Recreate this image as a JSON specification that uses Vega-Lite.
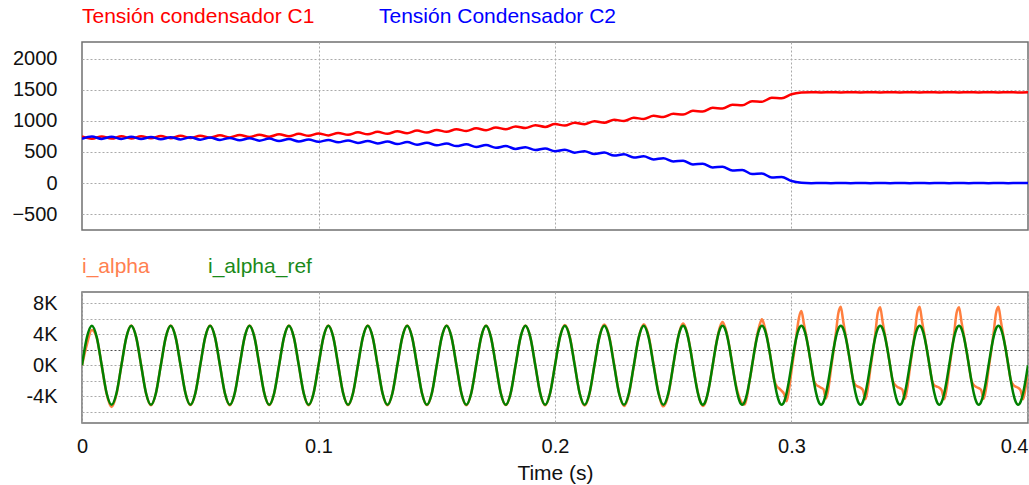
{
  "$schema": "https://vega.github.io/schema/vega-lite/v6.json",
  "background": "white",
  "padding": {"left": 11, "top": 5, "right": 0, "bottom": 0},
  "config": {
    "font": "Liberation Sans",
    "view": {"stroke": "#707070", "strokeWidth": 1.5},
    "axis": {
      "grid": true, "gridColor": "#aaaaaa", "gridDash": [2, 2], "gridWidth": 1,
      "domain": false, "ticks": false, "tickSize": 0,
      "labelFont": "Liberation Sans", "labelFontSize": 20, "labelColor": "#111111",
      "titleFont": "Liberation Sans", "titleFontSize": 21, "titleFontWeight": "normal", "titleColor": "#111111"
    }
  },
  "datasets": {
    "top": [
      {"t":0,"C1":748,"C2":712},{"t":0.00417,"C1":713,"C2":747},{"t":0.00833,"C1":750,"C2":710},{"t":0.0125,"C1":715,"C2":745},
      {"t":0.01667,"C1":751,"C2":709},{"t":0.02083,"C1":716,"C2":744},{"t":0.025,"C1":753,"C2":707},{"t":0.02917,"C1":719,"C2":741},
      {"t":0.03333,"C1":756,"C2":704},{"t":0.0375,"C1":722,"C2":738},{"t":0.04167,"C1":759,"C2":701},{"t":0.04583,"C1":725,"C2":735},
      {"t":0.05,"C1":762,"C2":698},{"t":0.05417,"C1":729,"C2":731},{"t":0.05833,"C1":767,"C2":693},{"t":0.0625,"C1":734,"C2":726},
      {"t":0.06667,"C1":773,"C2":687},{"t":0.07083,"C1":739,"C2":721},{"t":0.075,"C1":778,"C2":682},{"t":0.07917,"C1":745,"C2":715},
      {"t":0.08333,"C1":785,"C2":675},{"t":0.0875,"C1":752,"C2":708},{"t":0.09167,"C1":791,"C2":669},{"t":0.09583,"C1":759,"C2":701},
      {"t":0.1,"C1":798,"C2":662},{"t":0.10417,"C1":766,"C2":694},{"t":0.10833,"C1":806,"C2":654},{"t":0.1125,"C1":775,"C2":685},
      {"t":0.11667,"C1":815,"C2":645},{"t":0.12083,"C1":783,"C2":677},{"t":0.125,"C1":823,"C2":637},{"t":0.12917,"C1":792,"C2":668},
      {"t":0.13333,"C1":833,"C2":627},{"t":0.1375,"C1":802,"C2":658},{"t":0.14167,"C1":843,"C2":617},{"t":0.14583,"C1":812,"C2":648},
      {"t":0.15,"C1":853,"C2":607},{"t":0.15417,"C1":824,"C2":636},{"t":0.15833,"C1":866,"C2":594},{"t":0.1625,"C1":837,"C2":623},
      {"t":0.16667,"C1":880,"C2":580},{"t":0.17083,"C1":850,"C2":610},{"t":0.175,"C1":893,"C2":567},{"t":0.17917,"C1":866,"C2":594},
      {"t":0.18333,"C1":911,"C2":549},{"t":0.1875,"C1":885,"C2":575},{"t":0.19167,"C1":930,"C2":530},{"t":0.19583,"C1":903,"C2":557},
      {"t":0.2,"C1":948,"C2":512},{"t":0.20417,"C1":924,"C2":536},{"t":0.20833,"C1":971,"C2":489},{"t":0.2125,"C1":947,"C2":513},
      {"t":0.21667,"C1":995,"C2":465},{"t":0.22083,"C1":970,"C2":490},{"t":0.225,"C1":1018,"C2":442},{"t":0.22917,"C1":998,"C2":462},
      {"t":0.23333,"C1":1050,"C2":410},{"t":0.2375,"C1":1030,"C2":430},{"t":0.24167,"C1":1081,"C2":379},{"t":0.24583,"C1":1061,"C2":399},
      {"t":0.25,"C1":1113,"C2":347},{"t":0.25417,"C1":1101,"C2":359},{"t":0.25833,"C1":1161,"C2":299},{"t":0.2625,"C1":1150,"C2":310},
      {"t":0.26667,"C1":1210,"C2":250},{"t":0.27083,"C1":1198,"C2":262},{"t":0.275,"C1":1258,"C2":202},{"t":0.27917,"C1":1250,"C2":210},
      {"t":0.28333,"C1":1315,"C2":145},{"t":0.2875,"C1":1307,"C2":153},{"t":0.29167,"C1":1371,"C2":89},{"t":0.29583,"C1":1364,"C2":96},
      {"t":0.3,"C1":1428,"C2":32},{"t":0.30417,"C1":1455,"C2":5},{"t":0.30833,"C1":1462,"C2":-2},{"t":0.3125,"C1":1457,"C2":2},
      {"t":0.31667,"C1":1462,"C2":-2},{"t":0.32083,"C1":1457,"C2":2},{"t":0.325,"C1":1462,"C2":-2},{"t":0.32917,"C1":1457,"C2":2},
      {"t":0.33333,"C1":1462,"C2":-2},{"t":0.3375,"C1":1457,"C2":2},{"t":0.34167,"C1":1462,"C2":-2},{"t":0.34583,"C1":1457,"C2":2},
      {"t":0.35,"C1":1462,"C2":-2},{"t":0.35417,"C1":1457,"C2":2},{"t":0.35833,"C1":1462,"C2":-2},{"t":0.3625,"C1":1457,"C2":2},
      {"t":0.36667,"C1":1462,"C2":-2},{"t":0.37083,"C1":1457,"C2":2},{"t":0.375,"C1":1462,"C2":-2},{"t":0.37917,"C1":1457,"C2":2},
      {"t":0.38333,"C1":1462,"C2":-2},{"t":0.3875,"C1":1457,"C2":2},{"t":0.39167,"C1":1462,"C2":-2},{"t":0.39583,"C1":1457,"C2":2},
      {"t":0.4,"C1":1460,"C2":0}
    ],
    "bot": [
      {"t":0,"a":0,"r":0},{"t":0.00208,"a":2700,"r":3606},{"t":0.00417,"a":4550,"r":5100},{"t":0.00625,"a":3550,"r":3606},
      {"t":0.00833,"a":-50,"r":0},{"t":0.01042,"a":-3700,"r":-3606},{"t":0.0125,"a":-5400,"r":-5100},{"t":0.01458,"a":-3750,"r":-3606},
      {"t":0.01667,"a":0,"r":0},{"t":0.01875,"a":3620,"r":3606},{"t":0.02083,"a":5150,"r":5100},{"t":0.02292,"a":3600,"r":3606},
      {"t":0.025,"a":0,"r":0},{"t":0.02708,"a":-3620,"r":-3606},{"t":0.02917,"a":-5160,"r":-5100},{"t":0.03125,"a":-3600,"r":-3606},
      {"t":0.03333,"a":20,"r":0},{"t":0.03542,"a":3600,"r":3606},{"t":0.0375,"a":5120,"r":5100},{"t":0.03958,"a":3630,"r":3606},
      {"t":0.04167,"a":10,"r":0},{"t":0.04375,"a":-3600,"r":-3606},{"t":0.04583,"a":-5140,"r":-5100},{"t":0.04792,"a":-3630,"r":-3606},
      {"t":0.05,"a":0,"r":0},{"t":0.05208,"a":3620,"r":3606},{"t":0.05417,"a":5150,"r":5100},{"t":0.05625,"a":3600,"r":3606},
      {"t":0.05833,"a":0,"r":0},{"t":0.06042,"a":-3620,"r":-3606},{"t":0.0625,"a":-5160,"r":-5100},{"t":0.06458,"a":-3600,"r":-3606},
      {"t":0.06667,"a":20,"r":0},{"t":0.06875,"a":3600,"r":3606},{"t":0.07083,"a":5120,"r":5100},{"t":0.07292,"a":3630,"r":3606},
      {"t":0.075,"a":10,"r":0},{"t":0.07708,"a":-3600,"r":-3606},{"t":0.07917,"a":-5140,"r":-5100},{"t":0.08125,"a":-3630,"r":-3606},
      {"t":0.08333,"a":0,"r":0},{"t":0.08542,"a":3620,"r":3606},{"t":0.0875,"a":5150,"r":5100},{"t":0.08958,"a":3600,"r":3606},
      {"t":0.09167,"a":0,"r":0},{"t":0.09375,"a":-3620,"r":-3606},{"t":0.09583,"a":-5160,"r":-5100},{"t":0.09792,"a":-3600,"r":-3606},
      {"t":0.1,"a":20,"r":0},{"t":0.10208,"a":3600,"r":3606},{"t":0.10417,"a":5120,"r":5100},{"t":0.10625,"a":3630,"r":3606},
      {"t":0.10833,"a":10,"r":0},{"t":0.11042,"a":-3600,"r":-3606},{"t":0.1125,"a":-5140,"r":-5100},{"t":0.11458,"a":-3630,"r":-3606},
      {"t":0.11667,"a":0,"r":0},{"t":0.11875,"a":3620,"r":3606},{"t":0.12083,"a":5150,"r":5100},{"t":0.12292,"a":3600,"r":3606},
      {"t":0.125,"a":0,"r":0},{"t":0.12708,"a":-3620,"r":-3606},{"t":0.12917,"a":-5160,"r":-5100},{"t":0.13125,"a":-3600,"r":-3606},
      {"t":0.13333,"a":20,"r":0},{"t":0.13542,"a":3600,"r":3606},{"t":0.1375,"a":5120,"r":5100},{"t":0.13958,"a":3630,"r":3606},
      {"t":0.14167,"a":10,"r":0},{"t":0.14375,"a":-3600,"r":-3606},{"t":0.14583,"a":-5140,"r":-5100},{"t":0.14792,"a":-3630,"r":-3606},
      {"t":0.15,"a":0,"r":0},{"t":0.15208,"a":3620,"r":3606},{"t":0.15417,"a":5150,"r":5100},{"t":0.15625,"a":3600,"r":3606},
      {"t":0.15833,"a":0,"r":0},{"t":0.16042,"a":-3620,"r":-3606},{"t":0.1625,"a":-5160,"r":-5100},{"t":0.16458,"a":-3600,"r":-3606},
      {"t":0.16667,"a":20,"r":0},{"t":0.16875,"a":3600,"r":3606},{"t":0.17083,"a":5120,"r":5100},{"t":0.17292,"a":3630,"r":3606},
      {"t":0.175,"a":10,"r":0},{"t":0.17708,"a":-3600,"r":-3606},{"t":0.17917,"a":-5140,"r":-5100},{"t":0.18125,"a":-3630,"r":-3606},
      {"t":0.18333,"a":0,"r":0},{"t":0.18542,"a":3620,"r":3606},{"t":0.1875,"a":5150,"r":5100},{"t":0.18958,"a":3600,"r":3606},
      {"t":0.19167,"a":0,"r":0},{"t":0.19375,"a":-3620,"r":-3606},{"t":0.19583,"a":-5160,"r":-5100},{"t":0.19792,"a":-3600,"r":-3606},
      {"t":0.2,"a":0,"r":0},{"t":0.20208,"a":3650,"r":3606},{"t":0.20417,"a":5200,"r":5100},{"t":0.20625,"a":3700,"r":3606},
      {"t":0.20833,"a":50,"r":0},{"t":0.21042,"a":-3600,"r":-3606},{"t":0.2125,"a":-5200,"r":-5100},{"t":0.21458,"a":-3700,"r":-3606},
      {"t":0.21667,"a":0,"r":0},{"t":0.21875,"a":3650,"r":3606},{"t":0.22083,"a":5250,"r":5100},{"t":0.22292,"a":3750,"r":3606},
      {"t":0.225,"a":100,"r":0},{"t":0.22708,"a":-3550,"r":-3606},{"t":0.22917,"a":-5250,"r":-5100},{"t":0.23125,"a":-3750,"r":-3606},
      {"t":0.23333,"a":-50,"r":0},{"t":0.23542,"a":3600,"r":3606},{"t":0.2375,"a":5300,"r":5100},{"t":0.23958,"a":3800,"r":3606},
      {"t":0.24167,"a":150,"r":0},{"t":0.24375,"a":-3500,"r":-3606},{"t":0.24583,"a":-5300,"r":-5100},{"t":0.24792,"a":-3800,"r":-3606},
      {"t":0.25,"a":0,"r":0},{"t":0.25104,"a":1900,"r":1952},{"t":0.25208,"a":3650,"r":3606},{"t":0.25313,"a":4850,"r":4712},
      {"t":0.25417,"a":5400,"r":5100},{"t":0.25521,"a":4850,"r":4712},{"t":0.25625,"a":3700,"r":3606},{"t":0.25729,"a":2000,"r":1952},
      {"t":0.25833,"a":50,"r":0},{"t":0.25938,"a":-1850,"r":-1952},{"t":0.26042,"a":-3500,"r":-3606},{"t":0.26146,"a":-4700,"r":-4712},
      {"t":0.2625,"a":-5250,"r":-5100},{"t":0.26354,"a":-4850,"r":-4712},{"t":0.26458,"a":-3650,"r":-3606},{"t":0.26563,"a":-1950,"r":-1952},
      {"t":0.26667,"a":-50,"r":0},{"t":0.26771,"a":1950,"r":1952},{"t":0.26875,"a":3700,"r":3606},{"t":0.26979,"a":5000,"r":4712},
      {"t":0.27083,"a":5600,"r":5100},{"t":0.27188,"a":4950,"r":4712},{"t":0.27292,"a":3750,"r":3606},{"t":0.27396,"a":2000,"r":1952},
      {"t":0.275,"a":50,"r":0},{"t":0.27604,"a":-1850,"r":-1952},{"t":0.27708,"a":-3300,"r":-3606},{"t":0.27813,"a":-4300,"r":-4712},
      {"t":0.27917,"a":-4900,"r":-5100},{"t":0.28021,"a":-5050,"r":-4712},{"t":0.28125,"a":-3900,"r":-3606},{"t":0.28229,"a":-1950,"r":-1952},
      {"t":0.28333,"a":-100,"r":0},{"t":0.28438,"a":1950,"r":1952},{"t":0.28542,"a":3800,"r":3606},{"t":0.28646,"a":5150,"r":4712},
      {"t":0.2875,"a":5950,"r":5100},{"t":0.28854,"a":5100,"r":4712},{"t":0.28958,"a":3750,"r":3606},{"t":0.29063,"a":1950,"r":1952},
      {"t":0.29167,"a":0,"r":0},{"t":0.29271,"a":-1900,"r":-1952},{"t":0.29375,"a":-2700,"r":-3606},{"t":0.29479,"a":-3000,"r":-4712},
      {"t":0.29583,"a":-3300,"r":-5100},{"t":0.29688,"a":-3700,"r":-4712},{"t":0.29792,"a":-4650,"r":-3606},{"t":0.29896,"a":-3100,"r":-1952},
      {"t":0.3,"a":-700,"r":0},{"t":0.30104,"a":1500,"r":1952},{"t":0.30208,"a":3900,"r":3606},{"t":0.30313,"a":6100,"r":4712},
      {"t":0.30417,"a":7000,"r":5100},{"t":0.30521,"a":5400,"r":4712},{"t":0.30625,"a":3750,"r":3606},{"t":0.30729,"a":1950,"r":1952},
      {"t":0.30833,"a":0,"r":0},{"t":0.30938,"a":-1900,"r":-1952},{"t":0.31042,"a":-2500,"r":-3606},{"t":0.31146,"a":-2700,"r":-4712},
      {"t":0.3125,"a":-2900,"r":-5100},{"t":0.31354,"a":-3100,"r":-4712},{"t":0.31458,"a":-4300,"r":-3606},{"t":0.31563,"a":-2950,"r":-1952},
      {"t":0.31667,"a":-550,"r":0},{"t":0.31771,"a":1700,"r":1952},{"t":0.31875,"a":4100,"r":3606},{"t":0.31979,"a":6700,"r":4712},
      {"t":0.32083,"a":7550,"r":5100},{"t":0.32188,"a":5650,"r":4712},{"t":0.32292,"a":3800,"r":3606},{"t":0.32396,"a":1950,"r":1952},
      {"t":0.325,"a":0,"r":0},{"t":0.32604,"a":-1900,"r":-1952},{"t":0.32708,"a":-2550,"r":-3606},{"t":0.32813,"a":-2750,"r":-4712},
      {"t":0.32917,"a":-2900,"r":-5100},{"t":0.33021,"a":-3200,"r":-4712},{"t":0.33125,"a":-4400,"r":-3606},{"t":0.33229,"a":-2900,"r":-1952},
      {"t":0.33333,"a":-500,"r":0},{"t":0.33438,"a":1700,"r":1952},{"t":0.33542,"a":4050,"r":3606},{"t":0.33646,"a":6750,"r":4712},
      {"t":0.3375,"a":7500,"r":5100},{"t":0.33854,"a":5600,"r":4712},{"t":0.33958,"a":3800,"r":3606},{"t":0.34063,"a":1950,"r":1952},
      {"t":0.34167,"a":-20,"r":0},{"t":0.34271,"a":-1900,"r":-1952},{"t":0.34375,"a":-2500,"r":-3606},{"t":0.34479,"a":-2800,"r":-4712},
      {"t":0.34583,"a":-2950,"r":-5100},{"t":0.34688,"a":-3150,"r":-4712},{"t":0.34792,"a":-4350,"r":-3606},{"t":0.34896,"a":-2950,"r":-1952},
      {"t":0.35,"a":-500,"r":0},{"t":0.35104,"a":1750,"r":1952},{"t":0.35208,"a":4100,"r":3606},{"t":0.35313,"a":6700,"r":4712},
      {"t":0.35417,"a":7550,"r":5100},{"t":0.35521,"a":5650,"r":4712},{"t":0.35625,"a":3850,"r":3606},{"t":0.35729,"a":1950,"r":1952},
      {"t":0.35833,"a":0,"r":0},{"t":0.35938,"a":-1900,"r":-1952},{"t":0.36042,"a":-2600,"r":-3606},{"t":0.36146,"a":-2750,"r":-4712},
      {"t":0.3625,"a":-2900,"r":-5100},{"t":0.36354,"a":-3250,"r":-4712},{"t":0.36458,"a":-4400,"r":-3606},{"t":0.36563,"a":-2900,"r":-1952},
      {"t":0.36667,"a":-550,"r":0},{"t":0.36771,"a":1700,"r":1952},{"t":0.36875,"a":4050,"r":3606},{"t":0.36979,"a":6750,"r":4712},
      {"t":0.37083,"a":7500,"r":5100},{"t":0.37188,"a":5600,"r":4712},{"t":0.37292,"a":3800,"r":3606},{"t":0.37396,"a":1950,"r":1952},
      {"t":0.375,"a":0,"r":0},{"t":0.37604,"a":-1900,"r":-1952},{"t":0.37708,"a":-2550,"r":-3606},{"t":0.37813,"a":-2800,"r":-4712},
      {"t":0.37917,"a":-2950,"r":-5100},{"t":0.38021,"a":-3200,"r":-4712},{"t":0.38125,"a":-4350,"r":-3606},{"t":0.38229,"a":-2950,"r":-1952},
      {"t":0.38333,"a":-500,"r":0},{"t":0.38438,"a":1700,"r":1952},{"t":0.38542,"a":4100,"r":3606},{"t":0.38646,"a":6700,"r":4712},
      {"t":0.3875,"a":7550,"r":5100},{"t":0.38854,"a":5650,"r":4712},{"t":0.38958,"a":3800,"r":3606},{"t":0.39063,"a":1950,"r":1952},
      {"t":0.39167,"a":0,"r":0},{"t":0.39271,"a":-1900,"r":-1952},{"t":0.39375,"a":-2500,"r":-3606},{"t":0.39479,"a":-2750,"r":-4712},
      {"t":0.39583,"a":-2900,"r":-5100},{"t":0.39688,"a":-3250,"r":-4712},{"t":0.39792,"a":-4400,"r":-3606},{"t":0.39896,"a":-2900,"r":-1952},
      {"t":0.4,"a":-500,"r":0}
    ]
  },
  "bounds": "flush",
  "spacing": 62,
  "vconcat": [
    {
      "width": 946,
      "height": 188,
      "data": {"name": "top"},
      "transform": [{"fold": ["C1", "C2"], "as": ["s", "v"]}],
      "mark": {"type": "line", "interpolate": "monotone", "strokeWidth": 2.5, "clip": true},
      "encoding": {
        "x": {"field": "t", "type": "quantitative", "scale": {"domain": [0, 0.4], "nice": false, "zero": false},
              "axis": {"values": [0.1, 0.2, 0.3], "labels": false, "title": null}},
        "y": {"field": "v", "type": "quantitative", "scale": {"domain": [-756, 2269], "nice": false, "zero": false},
              "axis": {"values": [-500, 0, 500, 1000, 1500, 2000], "format": "d", "title": null, "labelPadding": 25}},
        "color": {"field": "s", "type": "nominal",
                  "scale": {"domain": ["C1", "C2"], "range": ["#ff0000", "#0000ff"]},
                  "legend": {"orient": "none", "legendX": -21, "legendY": -36, "direction": "horizontal", "title": null,
                             "symbolSize": 0, "symbolStrokeWidth": 0, "symbolOpacity": 0, "labelOffset": 0,
                             "labelFont": "Liberation Sans", "labelFontSize": 21, "labelLimit": 400, "columnPadding": 43,
                             "labelExpr": "datum.value == 'C1' ? 'Tensión condensador C1' : 'Tensión Condensador C2'",
                             "labelColor": {"expr": "datum.value == 'C1' ? '#ff0000' : '#0000ff'"}}}
      }
    },
    {
      "width": 946,
      "height": 131,
      "data": {"name": "bot"},
      "transform": [{"fold": ["a", "r"], "as": ["s", "v"]}, {"filter": {"field": "v", "valid": true}}],
      "mark": {"type": "line", "interpolate": "monotone", "strokeWidth": 2.5, "clip": true},
      "encoding": {
        "x": {"field": "t", "type": "quantitative", "scale": {"domain": [0, 0.4], "nice": false, "zero": false},
              "axis": {"values": [0, 0.1, 0.2, 0.3, 0.4], "format": "~g", "title": "Time (s)", "labelPadding": 13, "titlePadding": 6,
                       "labelFlush": false,
                       "labelAlign": {"expr": "datum.value > 0.35 ? 'right' : 'center'"}}},
        "y": {"field": "v", "type": "quantitative", "scale": {"domain": [-7450, 9460], "nice": false, "zero": false},
              "axis": {"values": [-6000, -4000, -2000, 0, 2000, 4000, 6000, 8000], "title": null, "labelPadding": 25,
                       "labelExpr": "datum.value % 4000 == 0 ? (datum.value / 1000) + 'K' : ''",
                       "gridColor": {"condition": {"test": "datum.value == 2000", "value": "#505050"}, "value": "#aaaaaa"}}},
        "color": {"field": "s", "type": "nominal",
                  "scale": {"domain": ["a", "r"], "range": ["#ff7f3f", "#008000"]},
                  "legend": {"orient": "none", "legendX": -21, "legendY": -36, "direction": "horizontal", "title": null,
                             "symbolSize": 0, "symbolStrokeWidth": 0, "symbolOpacity": 0, "labelOffset": 0,
                             "labelFont": "Liberation Sans", "labelFontSize": 21, "labelLimit": 400, "columnPadding": 37,
                             "labelExpr": "datum.value == 'a' ? 'i_alpha' : 'i_alpha_ref'",
                             "labelColor": {"expr": "datum.value == 'a' ? '#ff8050' : '#1a8a1a'"}}}
      }
    }
  ],
  "resolve": {"scale": {"color": "independent", "y": "independent"}, "legend": {"color": "independent"}}
}
